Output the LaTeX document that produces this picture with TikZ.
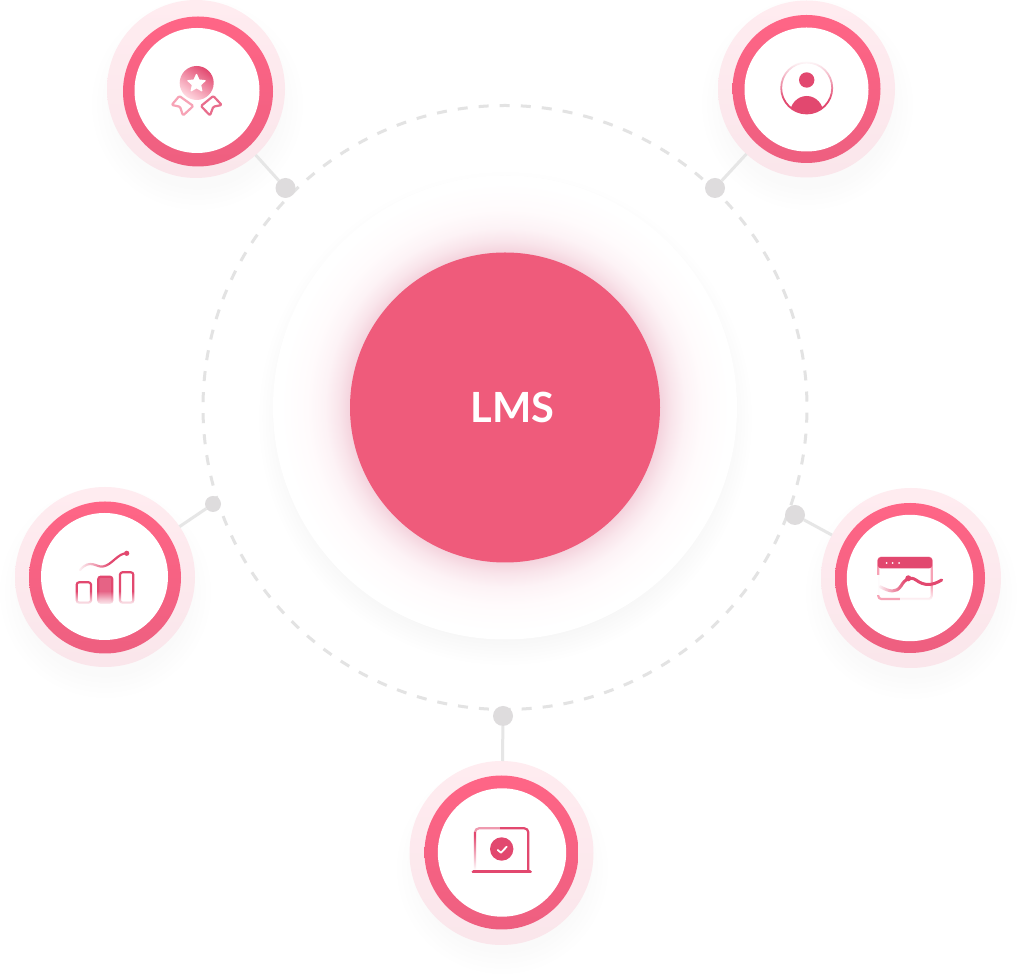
\documentclass[tikz,border=0pt]{standalone}
\usepackage{fontspec}
\setmainfont{Lato}
\usetikzlibrary{fadings,shapes.geometric}
\definecolor{haloT}{HTML}{FFECF0}
\definecolor{haloB}{HTML}{FAE6EB}
\definecolor{ringT}{HTML}{FF6586}
\definecolor{ringB}{HTML}{EE5F80}
\definecolor{core}{HTML}{EF5B7B}
\definecolor{ico}{HTML}{E2486F}
\definecolor{icoL}{HTML}{F7A3B6}
\definecolor{conn}{HTML}{E6E6E6}
\definecolor{dotc}{HTML}{DEDCDD}
\definecolor{dashc}{HTML}{E3E3E3}
\definecolor{glowA}{HTML}{F4D3DD}
\definecolor{glowB}{HTML}{F9E5EB}
\definecolor{glowC}{HTML}{FDF3F6}
\definecolor{glowD}{HTML}{FFFBFC}
\pgfdeclareradialshading{softshadow}{\pgfpoint{0bp}{0bp}}{color(0bp)=(white!98!black);color(19bp)=(white!98!black);color(25bp)=(white);color(50bp)=(white)}
\pgfdeclareradialshading{discshadow}{\pgfpoint{0bp}{0bp}}{color(0bp)=(white!96.5!black);color(22bp)=(white!96.5!black);color(25bp)=(white);color(50bp)=(white)}
\pgfdeclareradialshading{coreglow}{\pgfpoint{0bp}{0bp}}{color(0bp)=(glowA);color(17.2bp)=(glowA);color(18.5bp)=(glowB);color(20bp)=(glowC);color(22bp)=(glowD);color(25bp)=(white);color(50bp)=(white)}
\tikzfading[name=opaqueL, left color=transparent!0, right color=transparent!100]
\tikzfading[name=opaqueR, left color=transparent!100, right color=transparent!0]
\tikzfading[name=opaqueB, bottom color=transparent!0, top color=transparent!100]
\tikzfading[name=opaqueT, top color=transparent!0, bottom color=transparent!100]
\tikzset{
  halo/.style={circle,draw=none,inner sep=0pt,outer sep=0pt,minimum size=#1pt,top color=haloT,bottom color=haloB},
  ring/.style={circle,draw=none,inner sep=0pt,outer sep=0pt,minimum size=#1pt,top color=ringT,bottom color=ringB},
  hole/.style={circle,draw=none,fill=white,inner sep=0pt,outer sep=0pt,minimum size=#1pt},
  hub/.style={circle,draw=none,fill=dotc,inner sep=0pt,outer sep=0pt,minimum size=#1pt},
  link/.style={draw=conn,line width=1.5pt},
  icoline/.style={draw=ico,line width=1.1pt,line join=round,line cap=round},
  icofill/.style={fill=ico,draw=none}
}
\newcommand{\softsh}[3]{\path[shading=softshadow] (#1,#2) circle[radius=#3];}
\begin{document}
\begin{tikzpicture}[x=0.5pt,y=-0.5pt]
\useasboundingbox (0,0) rectangle (1024,977);
\fill[white] (0,0) rectangle (1024,977);
% soft shadows
\begin{scope}
\clip (0,0) rectangle (1024,977);
\softsh{197}{104}{108}
\softsh{807}{104}{108}
\softsh{105}{592}{108}
\softsh{911}{593}{108}
\softsh{502}{868}{108}
\end{scope}
\path[shading=discshadow] (505,418) circle[radius=248];
% dashed orbit
\draw[dashc,line width=1.5pt,dash pattern=on 5pt off 5.54pt,dash phase=2.5pt] (505,709.5) arc[start angle=90,delta angle=360,radius=302];
% disc and glow
\fill[white] (505,407.5) circle[radius=232];
\path[shading=coreglow] (505,407.5) circle[radius=225];
\node[circle,fill=core,inner sep=0pt,minimum size=155pt] (lms) at (505,407.5) {};
\node[text=white,font=\bfseries\fontsize{20.8}{24}\selectfont,inner sep=0pt] (lmst) at (512.5,407) {LMS};
% medallions
\node[halo=89] (h1) at (196,89) {};
\node[ring=75] (r1) at (198,91.5) {};
\node[hole=62.5] (i1) at (197,90.5) {};
\node[halo=88.5] (h2) at (806.5,89) {};
\node[ring=74] (r2) at (806.5,89) {};
\node[hole=62] (i2) at (806.5,89.5) {};
\node[halo=90] (h3) at (105,577) {};
\node[ring=76] (r3) at (105,577.5) {};
\node[hole=63.5] (i3) at (104.5,576.5) {};
\node[halo=90] (h4) at (911,578) {};
\node[ring=75] (r4) at (910,578) {};
\node[hole=63.2] (i4) at (910,578) {};
\node[halo=92] (h5) at (501.5,853) {};
\node[ring=77] (r5) at (501.5,852.5) {};
\node[hole=64.2] (i5) at (502,852.5) {};
% hubs and links
\node[hub=10] (d1) at (285.5,188) {};
\node[hub=10] (d2) at (715,188) {};
\node[hub=8] (d3) at (213,504) {};
\node[hub=10] (d4) at (795,515) {};
\node[hub=10] (d5) at (503,716) {};
\draw[link] (d1) -- (h1);
\draw[link] (d2) -- (h2);
\draw[link] (d3) -- (h3);
\draw[link] (d4) -- (h4);
\draw[link] (d5) -- (h5);
% medal icon
\shade[top color=ico,bottom color=ringT!25!white,shading angle=-35] (196.7,83) circle[radius=17];
\node[star,star points=5,star point ratio=2.1,fill=white,draw=white,line join=round,line width=.6pt,inner sep=0pt,minimum size=9pt] (st) at (196.5,83.5) {};
\draw[icoline,draw=icoL,rounded corners=.6pt] (171.7,105) -- (179.3,96) -- (193.3,106) -- (183,115.5) -- (180,106.7) -- cycle;
\draw[icoline,draw=ico!80!white,rounded corners=.6pt] (221.7,105) -- (213.3,96) -- (201,106) -- (210,115.5) -- (213.3,106.7) -- cycle;
% person icon
\draw[icoline,line width=.9pt] (806.7,88) circle[radius=25.5];
\fill[white,path fading=opaqueT] (778,60) rectangle (836,100);
\fill[icofill] (806.7,80) circle[radius=7.7];
\begin{scope}
\clip (806.7,88) circle[radius=25];
\fill[icofill] (806.7,114.5) ellipse[x radius=17,y radius=18.5];
\end{scope}
% bars icon
\draw[icoline,rounded corners=1.2pt] (76.7,582.3) rectangle (91,602.7);
\draw[icoline,fill=ico!85!white,rounded corners=1.2pt] (98.3,576.7) rectangle (112.3,602.7);
\draw[icoline,rounded corners=1.2pt] (120,572.3) rectangle (133.3,602.7);
\fill[white,path fading=opaqueB] (74,591) rectangle (136,605);
\draw[icoline] (80,570) .. controls (90,558) and (97,568) .. (103,566.5) .. controls (112,565) and (118,553) .. (126.7,553.3);
\fill[white,path fading=opaqueL] (77,550) rectangle (110,573);
\fill[icofill] (126.7,553.3) circle[radius=2.6];
% window icon
\draw[icoline,draw=icoL,rounded corners=1.5pt] (878.3,557.7) rectangle (931.7,599);
\fill[icofill,rounded corners=1.5pt] (877.8,557.2) rectangle (932.2,568.3);
\fill[white,path fading=opaqueB] (900,585) rectangle (935,601);
\foreach \u in {886.7,892.7,899}{\fill[white] (\u,563) circle[radius=1];}
\draw[icoline,line width=1.5pt] (880,586.7) .. controls (890,592) and (896,593) .. (901,586) .. controls (905,579) and (910,576) .. (916,580) .. controls (924,586) and (932,586) .. (941.7,580);
\fill[white,path fading=opaqueL] (877,575) rectangle (905,595);
\fill[icofill] (908.3,578.3) circle[radius=3];
% laptop icon
\draw[icoline,rounded corners=2pt] (475,870) -- (475,828.3) -- (528.3,828.3) -- (528.3,870);
\fill[white,path fading=opaqueB] (472,835) rectangle (478,870);
\fill[white,opacity=.45] (472,825) rectangle (500,832);
\draw[icoline,line width=1.8pt] (473.5,871.7) -- (530,871.7);
\fill[icofill] (501.7,849) circle[radius=11.7];
\draw[draw=white,line width=.9pt,line cap=round,line join=round] (497.7,850) -- (501,852.7) -- (506.7,846.7);
\end{tikzpicture}
\end{document}
